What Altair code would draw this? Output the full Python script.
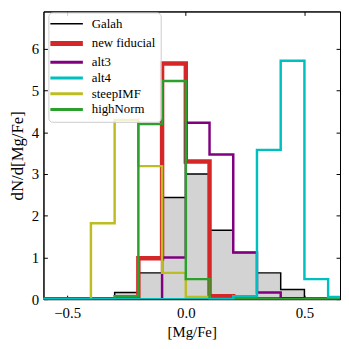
import altair as alt
import pandas as pd

# bin edges and histogram densities
edges = [-0.7, -0.6, -0.5, -0.4, -0.3, -0.2, -0.1, 0.0, 0.1, 0.2, 0.3, 0.4, 0.5, 0.6, 0.7]
galah = [0, 0, 0, 0.02, 0.16, 0.63, 2.44, 3.00, 1.65, 1.12, 0.63, 0.23, 0.02, 0]
fiducial = [0, 0, 0, 0, 0, 0.98, 5.65, 3.30, 0.07, 0, 0, 0, 0, 0]
alt3 = [0, 0, 0, 0, 0, 0, 1.00, 4.23, 3.47, 1.12, 0.16, 0.02, 0, 0]
alt4 = [0, 0, 0, 0, 0, 0, 0, 0, 0, 0.07, 3.58, 5.72, 0.48, 0.05]
steep = [0, 0, 0, 1.82, 4.30, 3.19, 0.63, 0.05, 0, 0, 0, 0, 0, 0]
high = [0, 0, 0, 0, 0.07, 4.20, 5.23, 0.48, 0.01, 0, 0, 0, 0, 0]

names = ["Galah", "new fiducial", "alt3", "alt4", "steepIMF", "highNorm"]
colors = ["#000000", "#d62728", "#800080", "#00bfbf", "#bcbd22", "#2ca02c"]
widths = [1.5, 4.5, 2.5, 2.5, 2.5, 2.5]
values = [galah, fiducial, alt3, alt4, steep, high]

rows = []
for name, vals, w in zip(names, values, widths):
    for i, v in enumerate(vals):
        rows.append({"series": name, "x": edges[i], "y": v, "w": w})
    rows.append({"series": name, "x": edges[-1], "y": vals[-1], "w": w})
df = pd.DataFrame(rows)

FONT = "Liberation Serif"
xscale = alt.Scale(domain=[-0.6, 0.65], nice=False, zero=False)
yscale = alt.Scale(domain=[0, 6.9], nice=False)
tick_in = alt.ExprRef(expr="-4")

x_bottom = alt.Axis(orient="bottom", values=[-0.5, 0.0, 0.5], format=".1f", tickSize=tick_in,
                    labelPadding=11, title="[Mg/Fe]", titlePadding=4, grid=False)
y_left = alt.Axis(orient="left", values=[0, 1, 2, 3, 4, 5, 6], format="d", tickSize=tick_in,
                  labelPadding=9, title="dN/d[Mg/Fe]", titlePadding=5, titleFontSize=17, grid=False)
x_top = alt.Axis(orient="top", values=[-0.5, 0.0, 0.5], labels=False, tickSize=tick_in, title=None, grid=False)
y_right = alt.Axis(orient="right", values=[0, 1, 2, 3, 4, 5, 6], labels=False, tickSize=tick_in, title=None, grid=False)

width_expr = "datum.value === 'new fiducial' ? 5 : (datum.value === 'Galah' ? 1.5 : 3)"
legend = alt.Legend(title=None, orient="none", legendX=5, legendY=1, padding=5, columns=1,
                    fillColor="rgba(255,255,255,0.8)", strokeColor="#cccccc", cornerRadius=4,
                    symbolType="stroke", symbolSize=1089, labelFont=FONT, labelFontSize=13,
                    rowPadding=2, labelOffset=19, symbolOffset=7,
                    symbolStrokeWidth=alt.ExprRef(expr=width_expr))

color = alt.Color("series:N", scale=alt.Scale(domain=names, range=colors), legend=legend)

area = alt.Chart(df).transform_filter(alt.datum.series == "Galah").mark_area(
    interpolate="step-after", color="#d3d3d3", clip=True
).encode(
    x=alt.X("x:Q", scale=xscale, axis=x_bottom),
    y=alt.Y("y:Q", scale=yscale, axis=y_left),
)

layers = [area]
draw_order = ["Galah", "new fiducial", "alt3", "steepIMF", "highNorm", "alt4"]
for k, s in enumerate(draw_order):
    layers.append(
        alt.Chart(df).transform_filter(alt.datum.series == s).mark_line(
            interpolate="step-after", clip=True
        ).encode(
            x=alt.X("x:Q", scale=xscale, axis=x_top if k == 0 else None),
            y=alt.Y("y:Q", scale=yscale, axis=y_right if k == 0 else None),
            color=color,
            strokeWidth=alt.StrokeWidth("w:Q", scale=None),
        )
    )

chart = alt.layer(*layers).resolve_axis(x="independent", y="independent").properties(
    width=301, height=292, padding=0
).configure_axis(
    labelFont=FONT, titleFont=FONT, labelFontSize=15, titleFontSize=15,
    titleFontWeight="normal", domainColor="black", tickColor="black", labelColor="black",
    titleColor="black", domainWidth=1, tickWidth=1
).configure_view(stroke="black", strokeWidth=1)

chart.save("out.html", embed_options={"renderer": "svg", "actions": False})
